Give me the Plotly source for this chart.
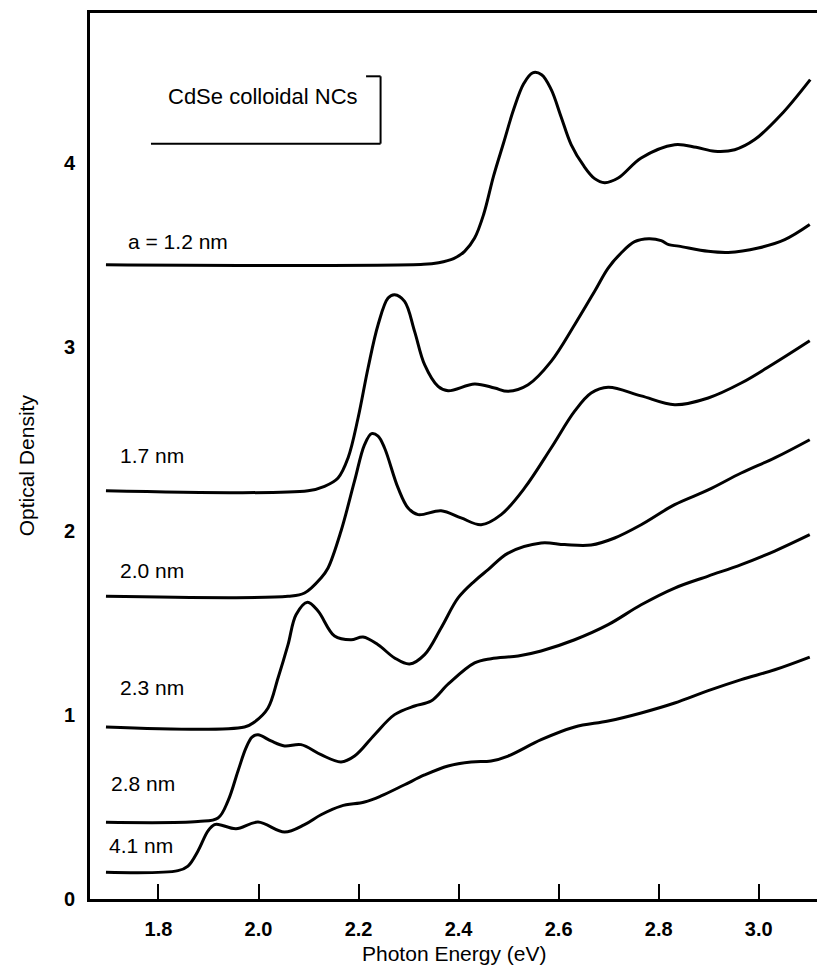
import plotly.graph_objects as go

# ---- data (photon energy in eV, optical density) ----
e_41 = [1.695, 1.839, 1.859, 1.879, 1.899, 1.912, 1.922, 1.955, 1.999, 2.052, 2.092, 2.125, 2.165, 2.212, 2.245,
        2.292, 2.332, 2.379, 2.425, 2.465, 2.499, 2.565, 2.632, 2.699, 2.765, 2.832, 2.899, 2.965, 3.032, 3.102]
od_41 = [0.145, 0.154, 0.179, 0.261, 0.370, 0.404, 0.404, 0.382, 0.418, 0.364, 0.404, 0.458, 0.505, 0.527, 0.560,
         0.621, 0.674, 0.723, 0.745, 0.750, 0.777, 0.866, 0.935, 0.967, 1.011, 1.065, 1.132, 1.192, 1.246, 1.315]

e_28 = [1.695, 1.879, 1.919, 1.939, 1.959, 1.975, 1.987, 1.999, 2.025, 2.052, 2.085, 2.125, 2.165, 2.192, 2.232,
        2.272, 2.312, 2.345, 2.380, 2.432, 2.465, 2.519, 2.565, 2.632, 2.699, 2.765, 2.832, 2.899, 2.965, 3.032, 3.102]
od_28 = [0.417, 0.421, 0.440, 0.533, 0.696, 0.821, 0.880, 0.893, 0.859, 0.832, 0.839, 0.784, 0.745, 0.777, 0.893,
         1.002, 1.049, 1.076, 1.170, 1.283, 1.306, 1.321, 1.348, 1.409, 1.491, 1.599, 1.690, 1.755, 1.817, 1.891, 1.980]

e_23 = [1.695, 1.972, 1.992, 2.019, 2.039, 2.059, 2.075, 2.098, 2.119, 2.152, 2.185, 2.209, 2.239, 2.272, 2.302,
        2.332, 2.365, 2.399, 2.432, 2.459, 2.499, 2.565, 2.612, 2.665, 2.712, 2.765, 2.832, 2.899, 2.965, 3.032, 3.102]
od_23 = [0.935, 0.935, 0.962, 1.038, 1.201, 1.382, 1.545, 1.613, 1.565, 1.429, 1.409, 1.424, 1.382, 1.310, 1.277,
         1.328, 1.473, 1.636, 1.728, 1.790, 1.880, 1.935, 1.926, 1.924, 1.962, 2.034, 2.143, 2.223, 2.315, 2.397, 2.496]

e_20 = [1.695, 2.059, 2.092, 2.125, 2.139, 2.165, 2.192, 2.212, 2.226, 2.239, 2.252, 2.279, 2.299, 2.319, 2.365,
        2.405, 2.445, 2.485, 2.532, 2.585, 2.632, 2.665, 2.699, 2.765, 2.832, 2.899, 2.965, 3.032, 3.102]
od_20 = [1.645, 1.645, 1.663, 1.745, 1.799, 2.000, 2.272, 2.469, 2.529, 2.516, 2.451, 2.234, 2.125, 2.089, 2.110,
         2.071, 2.034, 2.089, 2.234, 2.451, 2.651, 2.750, 2.781, 2.734, 2.686, 2.723, 2.804, 2.913, 3.034]

e_17 = [1.695, 2.099, 2.132, 2.159, 2.179, 2.199, 2.219, 2.239, 2.259, 2.272, 2.292, 2.312, 2.332, 2.359, 2.379,
        2.432, 2.472, 2.499, 2.539, 2.585, 2.632, 2.672, 2.699, 2.725, 2.752, 2.780, 2.805, 2.820, 2.840, 2.899,
        2.939, 2.999, 3.052, 3.102]
od_17 = [2.219, 2.219, 2.243, 2.288, 2.397, 2.614, 2.886, 3.121, 3.266, 3.284, 3.248, 3.085, 2.904, 2.786, 2.762,
         2.799, 2.777, 2.759, 2.795, 2.922, 3.121, 3.303, 3.429, 3.511, 3.572, 3.588, 3.578, 3.556, 3.548, 3.520,
         3.514, 3.538, 3.583, 3.665]

e_12 = [1.695, 2.330, 2.360, 2.390, 2.412, 2.432, 2.450, 2.470, 2.490, 2.510, 2.530, 2.548, 2.566, 2.585, 2.605,
        2.625, 2.650, 2.672, 2.692, 2.719, 2.765, 2.832, 2.875, 2.912, 2.952, 2.992, 3.045, 3.103]
od_12 = [3.447, 3.449, 3.458, 3.480, 3.520, 3.592, 3.720, 3.930, 4.110, 4.290, 4.430, 4.490, 4.480, 4.400, 4.250,
         4.100, 3.985, 3.915, 3.893, 3.918, 4.027, 4.099, 4.085, 4.064, 4.072, 4.127, 4.263, 4.453]

series = [("4.1 nm", e_41, od_41), ("2.8 nm", e_28, od_28), ("2.3 nm", e_23, od_23),
          ("2.0 nm", e_20, od_20), ("1.7 nm", e_17, od_17), ("a = 1.2 nm", e_12, od_12)]

x_ticks = [1.8, 2.0, 2.2, 2.4, 2.6, 2.8, 3.0]
x_ticklabels = ["1.8", "2.0", "2.2", "2.4", "2.6", "2.8", "3.0"]
y_ticks = [0, 1, 2, 3, 4]

# label anchor positions (eV, OD)
label_pos = {"a = 1.2 nm": (1.735, 3.574), "1.7 nm": (1.719, 2.408), "2.0 nm": (1.719, 1.783),
             "2.3 nm": (1.719, 1.150), "2.8 nm": (1.702, 0.625), "4.1 nm": (1.697, 0.292)}

FONT = "Liberation Sans, Arial, sans-serif"

fig = go.Figure()
for name, xs, ys in series:
    fig.add_trace(go.Scatter(x=xs, y=ys, mode="lines", name=name,
                             line=dict(color="black", width=3, shape="spline", smoothing=1.0),
                             showlegend=False, hoverinfo="skip"))

annotations = []
for name, (lx, ly) in label_pos.items():
    annotations.append(dict(x=lx, y=ly, xref="x", yref="y", text=name, showarrow=False,
                            xanchor="left", yanchor="middle", font=dict(family=FONT, size=21, color="black")))

annotations.append(dict(x=2.008, y=4.36, xref="x", yref="y", text="CdSe colloidal NCs", showarrow=False,
                        xanchor="center", yanchor="middle", font=dict(family=FONT, size=22, color="black")))
annotations.append(dict(x=0.49, y=-0.062, xref="paper", yref="paper", text="Photon Energy (eV)",
                        showarrow=False, xanchor="center", yanchor="middle",
                        font=dict(family=FONT, size=21, color="black")))
annotations.append(dict(x=-0.0855, y=0.49, xref="paper", yref="paper", text="Optical Density",
                        showarrow=False, xanchor="center", yanchor="middle", textangle=-90,
                        font=dict(family=FONT, size=21, color="black")))

shapes = [
    dict(type="line", xref="x", yref="y", x0=1.785, x1=2.244, y0=4.105, y1=4.105, line=dict(color="black", width=2)),
    dict(type="line", xref="x", yref="y", x0=2.244, x1=2.244, y0=4.105, y1=4.471, line=dict(color="black", width=2)),
    dict(type="line", xref="x", yref="y", x0=2.215, x1=2.244, y0=4.471, y1=4.471, line=dict(color="black", width=2)),
]

fig.update_layout(
    width=825, height=971,
    margin=dict(l=82, r=0, t=5, b=80),
    paper_bgcolor="white", plot_bgcolor="white",
    annotations=annotations, shapes=shapes,
    xaxis=dict(range=[1.6631, 3.1485], tickvals=x_ticks, ticktext=x_ticklabels,
               showgrid=False, zeroline=False, showline=True, linecolor="black", linewidth=3, mirror=True,
               ticks="inside", ticklen=15, tickwidth=2, tickcolor="black", ticklabelstandoff=10,
               tickfont=dict(family=FONT, size=20, color="black", weight="bold")),
    yaxis=dict(range=[0, 4.815], tickvals=y_ticks, showgrid=False, zeroline=False,
               showline=True, linecolor="black", linewidth=3, ticks="", ticklabelstandoff=8,
               tickfont=dict(family=FONT, size=20, color="black", weight="bold")),
)

fig.write_html("out.html")
